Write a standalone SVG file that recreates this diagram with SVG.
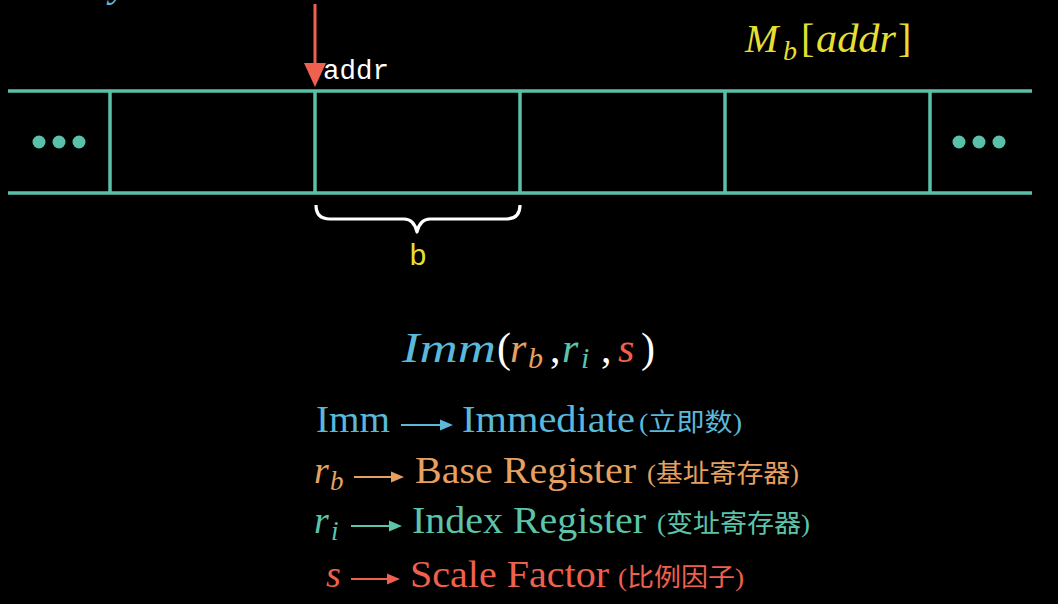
<svg xmlns="http://www.w3.org/2000/svg" width="1058" height="604" viewBox="0 0 1058 604">
<style>
.tl{stroke:#5bc0a9;stroke-width:3.5;fill:none}
.dot{fill:#5bc0a9}
.serif{font-family:"Liberation Serif","DejaVu Serif",serif}
.it{font-style:italic}
.mono{font-family:"Liberation Mono","DejaVu Sans Mono",monospace}
.cjk{font-family:"Liberation Serif","Noto Sans CJK SC",sans-serif}
.blue{fill:#5ab8da}
.orange{fill:#e6a060}
.teal{fill:#5cc4a9}
.red{fill:#f0604e}
.yellow{fill:#e6df33}
.white{fill:#ffffff}
.al{stroke-width:2.2}
</style>
<rect width="1058" height="604" fill="#000"/>
<text class="serif it blue" x="110" y="-4" font-size="40">y</text>
<g id="memory">
<line class="tl" x1="8" y1="91" x2="1032" y2="91"/>
<line class="tl" x1="8" y1="193" x2="1032" y2="193"/>
<line class="tl" x1="110" y1="91" x2="110" y2="193"/>
<line class="tl" x1="315" y1="91" x2="315" y2="193"/>
<line class="tl" x1="520" y1="91" x2="520" y2="193"/>
<line class="tl" x1="725" y1="91" x2="725" y2="193"/>
<line class="tl" x1="930" y1="91" x2="930" y2="193"/>
<circle class="dot" cx="39" cy="142" r="6.5"/>
<circle class="dot" cx="59" cy="142" r="6.5"/>
<circle class="dot" cx="79" cy="142" r="6.5"/>
<circle class="dot" cx="959" cy="142" r="6.5"/>
<circle class="dot" cx="979" cy="142" r="6.5"/>
<circle class="dot" cx="999" cy="142" r="6.5"/>
</g>
<g id="pointer">
<line x1="315" y1="4" x2="315" y2="66" stroke="#f0604e" stroke-width="3"/>
<polygon points="304,63 326,63 315,87" fill="#f0604e"/>
<text class="mono white" x="323" y="79" font-size="27" textLength="66" lengthAdjust="spacingAndGlyphs">addr</text>
</g>
<g id="label-mb">
<text class="serif it yellow" y="52" font-size="40"><tspan x="745">M</tspan><tspan x="783" y="60" font-size="28">b</tspan><tspan x="801" y="52" font-style="normal">[</tspan><tspan x="816" textLength="80" lengthAdjust="spacingAndGlyphs">addr</tspan><tspan x="898" font-style="normal">]</tspan></text>
</g>
<g id="brace">
<path d="M316,205 Q316,219 330,219 L404,219 Q414,219 417,232 Q420,219 430,219 L506,219 Q520,219 520,205" fill="none" stroke="#fff" stroke-width="3.2" stroke-linejoin="round"/>
<text class="mono yellow" x="418" y="265" font-size="30" text-anchor="middle">b</text>
</g>
<g id="formula">
<text class="serif" y="362" font-size="42"><tspan class="it blue" x="402" textLength="94" lengthAdjust="spacingAndGlyphs">Imm</tspan><tspan class="white" x="497">(</tspan><tspan class="it orange" x="510">r</tspan><tspan class="it orange" x="528" y="368" font-size="30">b</tspan><tspan class="white" x="550" y="362">,</tspan><tspan class="it teal" x="562">r</tspan><tspan class="it teal" x="581" y="368" font-size="30">i</tspan><tspan class="white" x="601" y="362">,</tspan><tspan class="it red" x="618">s</tspan><tspan class="white" x="641">)</tspan></text>
</g>
<g id="row-imm">
<text class="serif blue" x="316" y="432" font-size="38" textLength="74" lengthAdjust="spacingAndGlyphs">Imm</text>
<line class="al" x1="401" y1="425" x2="443" y2="425" stroke="#5ab8da"/>
<polygon points="453,425 440,419.5 440,430.5" fill="#5ab8da"/>
<text class="serif blue" x="462" y="432" font-size="38" textLength="173" lengthAdjust="spacingAndGlyphs">Immediate</text>
<text class="cjk blue" x="639" y="431" font-size="25" textLength="103" lengthAdjust="spacingAndGlyphs">(立即数)</text>
</g>
<g id="row-rb">
<text class="serif it orange" x="314" y="483" font-size="38">r<tspan x="330" y="490" font-size="27">b</tspan></text>
<line class="al" x1="354" y1="477" x2="393" y2="477" stroke="#e6a060"/>
<polygon points="404,477 391,471.5 391,482.5" fill="#e6a060"/>
<text class="serif orange" x="415" y="483" font-size="38" textLength="221" lengthAdjust="spacingAndGlyphs">Base Register</text>
<text class="cjk orange" x="647" y="482" font-size="25" textLength="152" lengthAdjust="spacingAndGlyphs">(基址寄存器)</text>
</g>
<g id="row-ri">
<text class="serif it teal" x="314" y="533" font-size="38">r<tspan x="331" y="540" font-size="27">i</tspan></text>
<line class="al" x1="351" y1="526" x2="391" y2="526" stroke="#5cc4a9"/>
<polygon points="402,526 389,520.5 389,531.5" fill="#5cc4a9"/>
<text class="serif teal" x="412" y="533" font-size="38" textLength="234" lengthAdjust="spacingAndGlyphs">Index Register</text>
<text class="cjk teal" x="657" y="532" font-size="25" textLength="153" lengthAdjust="spacingAndGlyphs">(变址寄存器)</text>
</g>
<g id="row-s">
<text class="serif it red" x="326" y="587" font-size="38">s</text>
<line class="al" x1="351" y1="579" x2="389" y2="579" stroke="#f0604e"/>
<polygon points="400,579 387,573.5 387,584.5" fill="#f0604e"/>
<text class="serif red" x="410" y="587" font-size="38" textLength="199" lengthAdjust="spacingAndGlyphs">Scale Factor</text>
<text class="cjk red" x="618" y="586" font-size="25" textLength="126" lengthAdjust="spacingAndGlyphs">(比例因子)</text>
</g>
</svg>
